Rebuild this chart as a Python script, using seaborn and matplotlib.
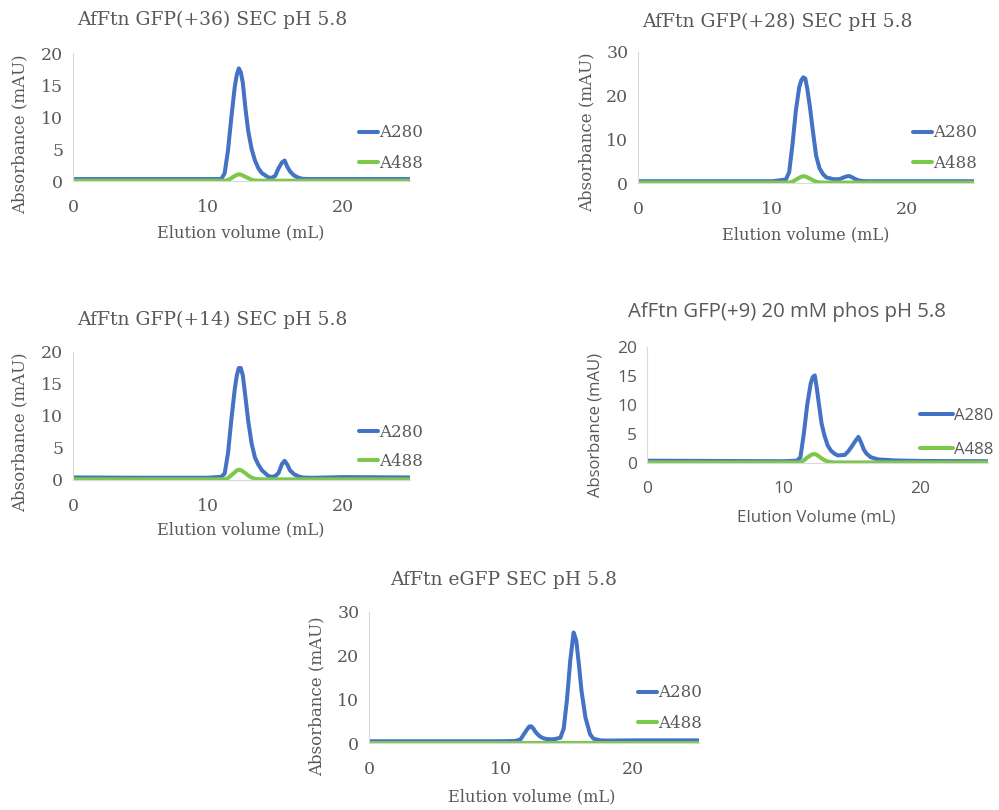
import numpy as np
import pandas as pd
import matplotlib
matplotlib.use("Agg")
import matplotlib.pyplot as plt
import seaborn as sns

# ---------------- data ----------------
elution_ml = [0, 5, 10, 11.0, 11.25, 11.5, 11.75, 12.0, 12.15, 12.3, 12.45, 12.6, 12.8,
              13.0, 13.25, 13.5, 13.75, 14.0, 14.5, 14.75, 15.0, 15.25, 15.5, 15.7, 15.9,
              16.1, 16.4, 16.75, 17.0, 17.5, 18, 20, 25]

gfp36_a280 = [0.3, 0.3, 0.3, 0.3, 1.2, 4.8, 10.0, 14.7, 16.6, 17.6, 17.0, 15.3, 11.2,
              7.8, 5.0, 3.2, 2.0, 1.25, 0.55, 0.5, 0.8, 2.0, 2.9, 3.2, 2.2,
              1.5, 0.85, 0.5, 0.35, 0.3, 0.3, 0.3, 0.3]
gfp36_a488 = [0.05, 0.05, 0.05, 0.05, 0.05, 0.15, 0.45, 0.8, 0.95, 1.05, 1.0, 0.85, 0.65,
              0.45, 0.2, 0.08, 0.05, 0.05, 0.05, 0.05, 0.05, 0.05, 0.05, 0.05, 0.05,
              0.05, 0.05, 0.05, 0.05, 0.05, 0.05, 0.05, 0.05]

gfp28_a280 = [0.4, 0.4, 0.4, 0.8, 2.5, 9.0, 16.7, 22.0, 23.5, 24.2, 23.9, 21.5, 17.2,
              12.2, 6.3, 3.4, 2.1, 1.3, 0.9, 0.85, 0.9, 1.2, 1.5, 1.6, 1.35,
              1.0, 0.6, 0.45, 0.4, 0.4, 0.4, 0.4, 0.4]
gfp28_a488 = [0.1, 0.1, 0.1, 0.1, 0.1, 0.3, 0.75, 1.2, 1.45, 1.55, 1.5, 1.3, 1.0,
              0.65, 0.3, 0.15, 0.1, 0.1, 0.1, 0.1, 0.1, 0.1, 0.1, 0.1, 0.1,
              0.1, 0.1, 0.1, 0.1, 0.1, 0.1, 0.1, 0.1]

gfp14_a280 = [0.4, 0.35, 0.35, 0.5, 1.0, 4.2, 9.5, 14.2, 16.3, 17.5, 17.5, 16.3, 12.8,
              9.2, 5.7, 3.5, 2.4, 1.55, 0.6, 0.5, 0.6, 1.1, 2.5, 3.0, 2.4,
              1.5, 0.9, 0.55, 0.4, 0.35, 0.35, 0.45, 0.4]
gfp14_a488 = [0.1, 0.1, 0.1, 0.1, 0.12, 0.3, 0.75, 1.2, 1.5, 1.6, 1.55, 1.35, 1.05,
              0.7, 0.38, 0.2, 0.12, 0.1, 0.1, 0.1, 0.1, 0.1, 0.1, 0.1, 0.1,
              0.1, 0.1, 0.1, 0.1, 0.1, 0.1, 0.1, 0.1]

gfp9_a280 = [0.4, 0.35, 0.3, 0.4, 1.0, 5.1, 10.1, 13.7, 14.8, 15.1, 12.9, 10.2, 6.8,
             4.8, 3.0, 2.1, 1.6, 1.3, 1.4, 2.0, 2.8, 3.7, 4.5, 3.5, 2.3,
             1.6, 1.0, 0.75, 0.6, 0.55, 0.45, 0.35, 0.3]
gfp9_a488 = [0.1, 0.1, 0.1, 0.1, 0.15, 0.45, 0.95, 1.35, 1.5, 1.55, 1.4, 1.15, 0.8,
             0.5, 0.25, 0.15, 0.1, 0.1, 0.1, 0.1, 0.1, 0.1, 0.1, 0.1, 0.1,
             0.1, 0.1, 0.1, 0.1, 0.1, 0.1, 0.1, 0.1]

egfp_a280 = [0.4, 0.4, 0.4, 0.45, 0.6, 0.9, 2.1, 3.2, 3.8, 3.8, 3.3, 2.6, 1.9,
             1.4, 1.05, 0.9, 0.85, 0.85, 1.2, 3.3, 10.0, 19.0, 25.3, 23.5, 18.0,
             11.9, 5.8, 2.0, 1.0, 0.6, 0.55, 0.6, 0.6]
egfp_a488 = [0.1, 0.1, 0.1, 0.1, 0.1, 0.1, 0.1, 0.1, 0.1, 0.1, 0.1, 0.1, 0.1,
             0.1, 0.1, 0.1, 0.1, 0.1, 0.1, 0.1, 0.1, 0.1, 0.1, 0.1, 0.1,
             0.1, 0.1, 0.1, 0.1, 0.1, 0.1, 0.1, 0.1]

titles = ["AfFtn GFP(+36) SEC pH 5.8", "AfFtn GFP(+28) SEC pH 5.8",
          "AfFtn GFP(+14) SEC pH 5.8", "AfFtn GFP(+9) 20 mM phos pH 5.8",
          "AfFtn eGFP SEC pH 5.8"]
xlabels = ["Elution volume (mL)", "Elution volume (mL)", "Elution volume (mL)",
           "Elution Volume (mL)", "Elution volume (mL)"]
ylabel = "Absorbance (mAU)"
series_names = ["A280", "A488"]
x_ticks = [0, 10, 20]
y_ticks = [[0, 5, 10, 15, 20], [0, 10, 20, 30], [0, 5, 10, 15, 20],
           [0, 5, 10, 15, 20], [0, 10, 20, 30]]

# ---------------- style ----------------
sns.set_theme(style="white")
SERIF = ["DejaVu Serif"]
SANS = ["Open Sans", "DejaVu Sans"]
plt.rcParams["font.family"] = SERIF
TXT = "#595959"
BLUE = "#4472C4"
GREEN = "#7CC84A"
LW = 2.9

W, H = 999, 810
fig = plt.figure(figsize=(W / 100, H / 100), dpi=100)

def fx(px):
    return px / W

def fy(py):
    return 1 - py / H

# per panel: (left px, right px, top px, bottom px)
boxes = [(73, 410, 53, 181), (638, 974, 52, 183), (73, 410, 352, 480),
         (647, 988, 347, 463), (369, 699, 612, 743)]
title_pos = [(212, 20), (777, 22), (212, 320), (787, 312), (504, 580)]
ylab_pos = [(20, 134), (587, 132), (20, 432), (596, 425), (317, 696)]
xlab_pos = [(241, 233), (806, 235), (241, 530), (816, 517), (532, 797)]
leg_pos = [(359, 148), (913, 148), (359, 447), (920, 433), (638, 708)]
leg_gap = [30, 30, 29, 35, 30]

panels = [(gfp36_a280, gfp36_a488), (gfp28_a280, gfp28_a488),
          (gfp14_a280, gfp14_a488), (gfp9_a280, gfp9_a488),
          (egfp_a280, egfp_a488)]

for i, (a280, a488) in enumerate(panels):
    sans = i == 3
    fam = SANS if sans else SERIF
    l, r, t, b = boxes[i]
    ax = fig.add_axes([fx(l), fy(b), (r - l) / W, (b - t) / H])
    df = pd.DataFrame({
        "x": elution_ml * 2,
        "y": list(a280) + list(a488),
        "s": [series_names[0]] * len(a280) + [series_names[1]] * len(a488),
    })
    sns.lineplot(data=df, x="x", y="y", hue="s", hue_order=series_names,
                 palette=[BLUE, GREEN], linewidth=LW, ax=ax, legend=False,
                 estimator=None, sort=False)
    for ln in ax.get_lines():
        ln.set_solid_joinstyle("round")
        ln.set_solid_capstyle("round")
    ax.set_xlim(0, 25)
    ax.set_ylim(0, y_ticks[i][-1])
    ax.set_xticks(x_ticks)
    ax.set_yticks(y_ticks[i])
    ax.set_xlabel("")
    ax.set_ylabel("")
    ax.tick_params(length=0, labelsize=12.5, colors=TXT)
    ax.tick_params(axis="x", pad=13)
    ax.tick_params(axis="y", pad=7)
    for lab in ax.get_xticklabels() + ax.get_yticklabels():
        lab.set_family(fam)
    for s in ["top", "right"]:
        ax.spines[s].set_visible(False)
    for s in ["left", "bottom"]:
        ax.spines[s].set_color("#D9D9D9")
        ax.spines[s].set_linewidth(0.8)
    ax.set_facecolor("none")

    fig.text(fx(title_pos[i][0]), fy(title_pos[i][1]), titles[i], ha="center",
             va="center", fontsize=14.7 if sans else 13.5, color=TXT, family=fam)
    fig.text(fx(ylab_pos[i][0]), fy(ylab_pos[i][1]), ylabel, ha="center", va="center",
             rotation=90, fontsize=12 if sans else 12, color=TXT, family=fam)
    fig.text(fx(xlab_pos[i][0]), fy(xlab_pos[i][1]), xlabels[i], ha="center",
             va="center", fontsize=12.2 if sans else 11.6, color=TXT, family=fam)

    # legend
    lx, ly = leg_pos[i]
    handles = [plt.Line2D([], [], color=BLUE, lw=LW), plt.Line2D([], [], color=GREEN, lw=LW)]
    fs = 12 if sans else 12
    leg = ax.legend(handles, series_names, loc="center left",
                    bbox_to_anchor=(fx(lx), fy(ly)), bbox_transform=fig.transFigure,
                    frameon=False, handlelength=(33 if sans else 19) / (fs * 1.39),
                    handletextpad=0.05, borderpad=0, borderaxespad=0,
                    labelspacing=(leg_gap[i] - fs * 1.39) / (fs * 1.39),
                    prop={"family": fam, "size": fs})
    for txt in leg.get_texts():
        txt.set_color(TXT)

fig.savefig("out.png", dpi=100, facecolor="white")
